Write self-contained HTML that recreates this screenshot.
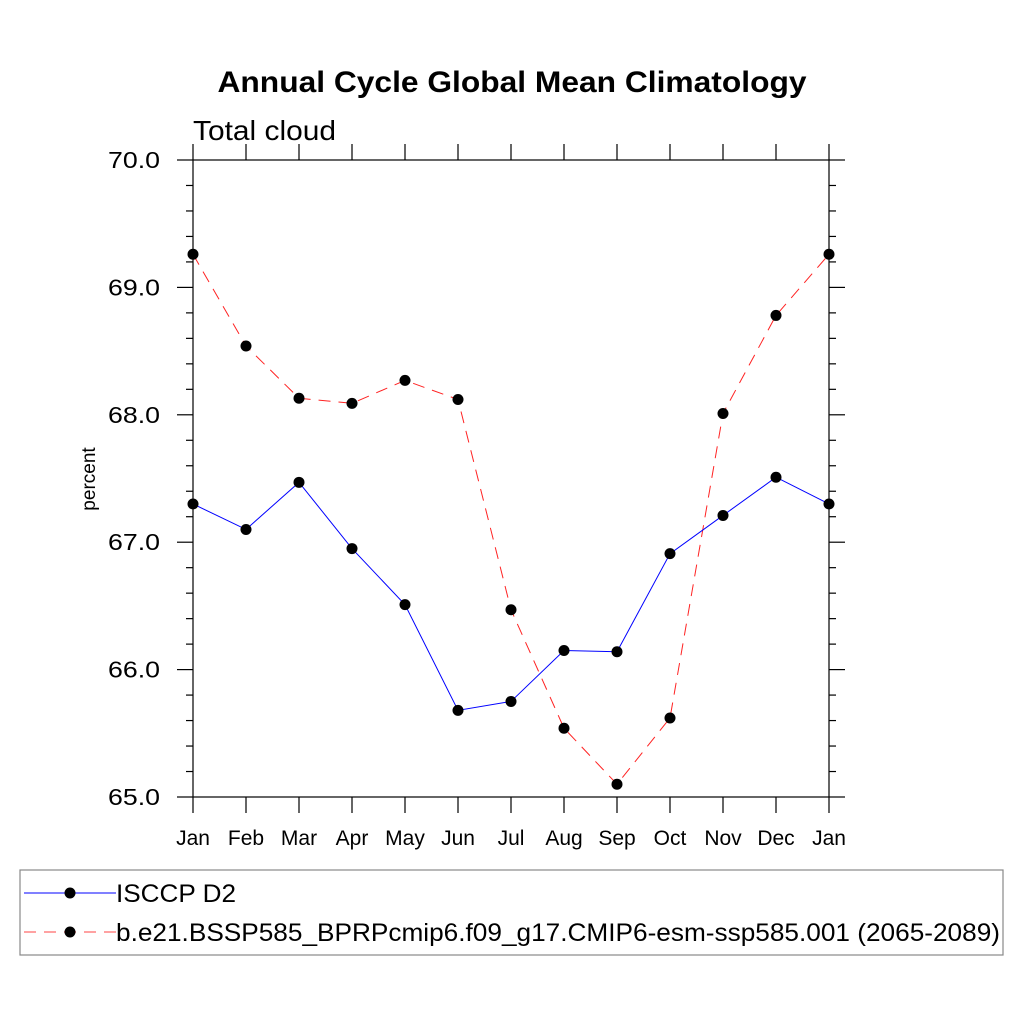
<!DOCTYPE html>
<html><head><meta charset="utf-8"><style>body{margin:0;background:#fff}svg{display:block;font-family:"Liberation Sans",sans-serif}</style></head>
<body>
<svg id="c" width="1024" height="1024" xmlns="http://www.w3.org/2000/svg">
<text x="512" y="92" text-anchor="middle" font-size="30" font-weight="bold" textLength="589" lengthAdjust="spacingAndGlyphs">Annual Cycle Global Mean Climatology</text>
<text x="193" y="140" font-size="28" textLength="143" lengthAdjust="spacingAndGlyphs">Total cloud</text>
<text transform="translate(95,479) rotate(-90)" text-anchor="middle" font-size="19">percent</text>
<rect x="193" y="160" width="636" height="637" fill="none" stroke="#000" stroke-width="1.2"/>
<g id="ticks"></g><g id="series"></g>
<rect x="20" y="870" width="983" height="85" fill="none" stroke="#888" stroke-width="1.2"/>
<g>
<line x1="24" y1="893" x2="116" y2="893" stroke="#00f" stroke-width="1"/>
<circle cx="70" cy="893" r="5.5" fill="#000"/>
<text x="116" y="902" font-size="25" textLength="120" lengthAdjust="spacingAndGlyphs">ISCCP D2</text></g>
<g>
<line x1="24" y1="932" x2="116" y2="932" stroke="#f44" stroke-width="1" stroke-dasharray="12,8"/>
<circle cx="70" cy="932" r="5.5" fill="#000"/>
<text x="116" y="941" font-size="25" textLength="884" lengthAdjust="spacingAndGlyphs">b.e21.BSSP585_BPRPcmip6.f09_g17.CMIP6-esm-ssp585.001 (2065-2089)</text></g>
</svg>
<script>
const months=["Jan","Feb","Mar","Apr","May","Jun","Jul","Aug","Sep","Oct","Nov","Dec","Jan"];
const yTicks=[65,66,67,68,69,70];
const isccp=[67.30,67.10,67.47,66.95,66.51,65.68,65.75,66.15,66.14,66.91,67.21,67.51,67.30];
const model=[69.26,68.54,68.13,68.09,68.27,68.12,66.47,65.54,65.10,65.62,68.01,68.78,69.26];
const NS="http://www.w3.org/2000/svg";
const X=i=>193+i*(636/12), Y=v=>797-(v-65)*(637/5);
const tk=document.getElementById('ticks'), sr=document.getElementById('series');
function mk(tag,a,p){const e=document.createElementNS(NS,tag);for(const k in a)e.setAttribute(k,a[k]);p.appendChild(e);return e;}
months.forEach((m,i)=>{const x=X(i);
const t1=mk('line',{x1:x,y1:797,x2:x,y2:813,stroke:'#000','stroke-width':1.2},tk);


mk('line',{x1:x,y1:160,x2:x,y2:144,stroke:'#000','stroke-width':1.2},tk);
const t=mk('text',{x:x,y:845,'text-anchor':'middle','font-size':21},tk);t.textContent=m;

});
for(let k=0;k<=25;k++){const v=65+k*0.2,y=Y(v),maj=k%5===0,l=maj?16:7;
mk('line',{x1:193,y1:y,x2:193-l,y2:y,stroke:'#000','stroke-width':1.2},tk);
mk('line',{x1:829,y1:y,x2:829+l,y2:y,stroke:'#000','stroke-width':1.2},tk);}
yTicks.forEach(v=>{const t=mk('text',{x:160,y:Y(v)+8,'text-anchor':'end','font-size':23,textLength:52,lengthAdjust:'spacingAndGlyphs'},tk);t.textContent=v.toFixed(1);

});
function draw(d,col,dash,name){const g=mk('g',{},sr);


mk('polyline',{points:d.map((v,i)=>X(i)+','+Y(v)).join(' '),fill:'none',stroke:col,'stroke-width':1,'stroke-dasharray':dash},g);
d.forEach((v,i)=>{const c=mk('circle',{cx:X(i),cy:Y(v),r:5.5,fill:'#000'},g);

});}
draw(model,'#f22','12,8','model-series');
draw(isccp,'#00f','none','isccp-series');
</script>
</body></html>
